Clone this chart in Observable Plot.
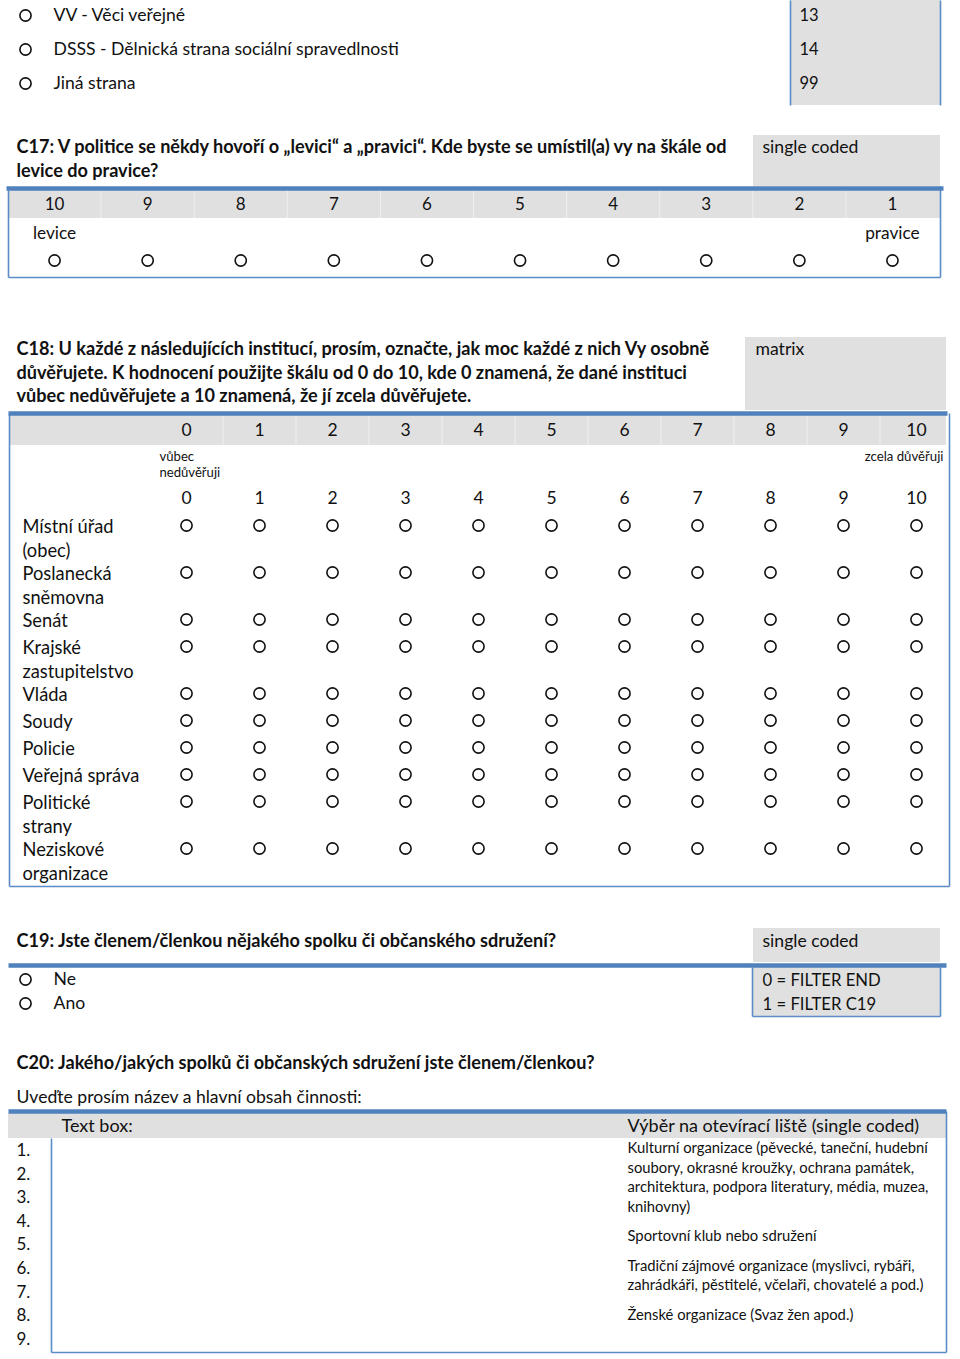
<!DOCTYPE html>
<html><head><meta charset="utf-8">
<script src="https://cdn.jsdelivr.net/npm/d3@7"></script>
<script src="https://cdn.jsdelivr.net/npm/@observablehq/plot@0.6"></script>
<style>html,body{margin:0;padding:0;background:#fff} #chart svg{display:block}</style>
</head><body><div id="chart"></div>
<script>
// ---------------- DATA ----------------
const partyOptions = ["VV - Věci veřejné", "DSSS - Dělnická strana sociální spravedlnosti", "Jiná strana"];
const partyCodes = ["13", "14", "99"];

const c17Question = ["C17: V politice se někdy hovoří o „levici“ a „pravici“. Kde byste se umístil(a) vy na škále od", "levice do pravice?"];
const c17Type = "single coded";
const c17Scale = ["10", "9", "8", "7", "6", "5", "4", "3", "2", "1"];
const c17Ends = ["levice", "pravice"];

const c18Question = [
  "C18: U každé z následujících institucí, prosím, označte, jak moc každé z nich Vy osobně",
  "důvěřujete. K hodnocení použijte škálu od 0 do 10, kde 0 znamená, že dané instituci",
  "vůbec nedůvěřujete a 10 znamená, že jí zcela důvěřujete."
];
const c18Type = "matrix";
const c18Scale = ["0", "1", "2", "3", "4", "5", "6", "7", "8", "9", "10"];
const c18LowEnd = ["vůbec", "nedůvěřuji"];
const c18HighEnd = "zcela důvěřuji";
const institutions = [
  ["Místní úřad", "(obec)"],
  ["Poslanecká", "sněmovna"],
  ["Senát"],
  ["Krajské", "zastupitelstvo"],
  ["Vláda"],
  ["Soudy"],
  ["Policie"],
  ["Veřejná správa"],
  ["Politické", "strany"],
  ["Neziskové", "organizace"]
];

const c19Question = "C19: Jste členem/členkou nějakého spolku či občanského sdružení?";
const c19Type = "single coded";
const c19Options = ["Ne", "Ano"];
const c19Codes = ["0 = FILTER END", "1 = FILTER C19"];

const c20Question = "C20: Jakého/jakých spolků či občanských sdružení jste členem/členkou?";
const c20Instruction = "Uveďte prosím název a hlavní obsah činnosti:";
const c20Headers = ["Text box:", "Výběr na otevírací liště (single coded)"];
const c20Numbers = ["1.", "2.", "3.", "4.", "5.", "6.", "7.", "8.", "9."];
const c20Choices = [
  ["Kulturní organizace (pěvecké, taneční, hudební", "soubory, okrasné kroužky, ochrana památek,", "architektura, podpora literatury, média, muzea,", "knihovny)"],
  ["Sportovní klub nebo sdružení"],
  ["Tradiční zájmové organizace (myslivci, rybáři,", "zahrádkáři, pěstitelé, včelaři, chovatelé a pod.)"],
  ["Ženské organizace (Svaz žen apod.)"]
];

// ---------------- LAYOUT ----------------
const W = 960, H = 1359;
const FONT = "Lato, 'Open Sans', sans-serif";
const BLUE = "#4f81bd", BLUE2 = "#5b8cc6", GRAY = "#e0e0e0";
const BODY = 17.6, BOLD = 18.1;

const texts = [];   // {x, y, text, size, weight, anchor}
const rects = [];   // gray fills
const thin = [];    // thin blue borders
const thick = [];   // thick blue rules
const seps = [];    // faint white separators in gray headers
const radios = [];

const T = (x, y, text, size = BODY, weight = "normal", anchor = "start") => texts.push({x, y, text, size, weight, anchor});
const R = (x1, x2, y1, y2) => rects.push({x1, x2, y1, y2});
const L = (arr, x1, y1, x2, y2) => arr.push({x1, y1, x2, y2});

// --- top: party list
R(790, 940, 0, 105);
L(thin, 790, 0, 790, 105); L(thin, 940, 0, 940, 105);
partyOptions.forEach((p, i) => {
  const y = 15 + 34 * i;
  radios.push({x: 25, y});
  T(53, y, p);
  T(799, y, partyCodes[i], 16.5);
});

// --- C17
c17Question.forEach((q, i) => T(16, 147 + 23.5 * i, q, BOLD, "bold"));
R(753, 940, 135, 186); T(762, 147, c17Type);
L(thick, 6, 188, 943, 188);
R(8, 940, 190, 218);
const x17 = d3.scaleBand().domain(c17Scale).range([7.5, 938.5]);
c17Scale.forEach((s, i) => {
  const cx = x17(s) + x17.bandwidth() / 2;
  if (i > 0) L(seps, x17(s), 190, x17(s), 218);
  T(cx, 204, s, 17, "normal", "middle");
  radios.push({x: cx, y: 260});
});
T(x17(c17Scale[0]) + x17.bandwidth() / 2, 233, c17Ends[0], 17.3, "normal", "middle");
T(x17(c17Scale[c17Scale.length - 1]) + x17.bandwidth() / 2, 233, c17Ends[1], 17.3, "normal", "middle");
L(thin, 8, 190, 8, 277); L(thin, 940, 186, 940, 277); L(thin, 8, 277, 940, 277);

// --- C18
c18Question.forEach((q, i) => T(16, 349 + 23.5 * i, q, BOLD, "bold"));
R(745, 946, 337, 410); T(755, 349, c18Type);
L(thick, 8, 413, 947, 413);
R(10, 946, 415, 445);
const x18 = d3.scaleBand().domain(c18Scale).range([149.5, 952.5]);
const c18c = s => x18(s) + x18.bandwidth() / 2;
c18Scale.forEach((s, i) => {
  if (i > 0) L(seps, x18(s), 415, x18(s), 445);
  T(c18c(s), 430, s, 17.5, "normal", "middle");
  T(c18c(s), 498, s, 17.5, "normal", "middle");
});
c18LowEnd.forEach((t, i) => T(159, 456 + 16 * i, t, 13.1));
T(943, 456, c18HighEnd, 13.2, "normal", "end");
let ry = 525;
institutions.forEach(lines => {
  lines.forEach((t, j) => T(22, ry + 2 + 24 * j, t, 18.3));
  c18Scale.forEach(s => radios.push({x: c18c(s), y: ry}));
  ry += 20 * lines.length + 7;
});
L(thin, 9, 413, 9, 886); L(thin, 949, 413, 949, 886); L(thin, 9, 886, 949, 886);

// --- C19
T(16, 941, c19Question, BOLD, "bold");
R(753, 940, 928, 962); T(762, 941, c19Type);
L(thick, 8, 965, 946, 965);
R(753, 940, 967, 1016);
L(thin, 752, 967, 752, 1016); L(thin, 940, 967, 940, 1016); L(thin, 752, 1016, 940, 1016);
c19Options.forEach((o, i) => {
  const y = 979 + 24 * i;
  radios.push({x: 25, y});
  T(53, y, o);
  T(762, y + 1, c19Codes[i], 16.7);
});

// --- C20
T(16, 1063, c20Question, BOLD, "bold");
T(16, 1097, c20Instruction);
L(thick, 8, 1111, 946, 1111);
R(8, 946, 1113, 1138);
T(61, 1126, c20Headers[0], 18);
T(627, 1126, c20Headers[1], 18);
c20Numbers.forEach((n, i) => T(16, 1150 + 23.6 * i, n, 17));
L(thin, 51, 1138, 51, 1352); L(thin, 51, 1352, 946, 1352); L(thin, 946, 1111, 946, 1352);
let cy = 1148;
c20Choices.forEach(g => {
  g.forEach((t, j) => T(627, cy + 19.5 * j, t, 14.8));
  cy += 19.5 * (g.length - 1) + 29.5;
});

// ---------------- MARKS ----------------
const groups = d3.groups(texts, d => `${d.weight}|${d.anchor}`);
const textMarks = groups.map(([key, data]) => {
  const [weight, anchor] = key.split("|");
  return Plot.text(data, {
    x: "x", y: "y", text: "text", fontSize: "size",
    fontWeight: weight, textAnchor: anchor, lineAnchor: "middle",
    fontFamily: FONT, fill: "#111"
  });
});

const chart = Plot.plot({
  width: W, height: H, margin: 0,
  style: {background: "#fff", fontFamily: FONT},
  x: {domain: [0, W], range: [0, W], axis: null},
  y: {domain: [0, H], range: [0, H], axis: null},
  marks: [
    Plot.rect(rects, {x1: "x1", x2: "x2", y1: "y1", y2: "y2", fill: GRAY}),
    Plot.link(seps, {x1: "x1", y1: "y1", x2: "x2", y2: "y2", stroke: "#fff", strokeOpacity: 0.5, strokeWidth: 1}),
    Plot.link(thin, {x1: "x1", y1: "y1", x2: "x2", y2: "y2", stroke: BLUE2, strokeWidth: 1.6}),
    Plot.link(thick, {x1: "x1", y1: "y1", x2: "x2", y2: "y2", stroke: BLUE, strokeWidth: 4.5}),
    ...textMarks,
    Plot.dot(radios, {x: "x", y: "y", r: 5.6, stroke: "#111", strokeWidth: 1.6, fill: "#fff"})
  ]
});
document.getElementById("chart").append(chart);
</script>
</body></html>
